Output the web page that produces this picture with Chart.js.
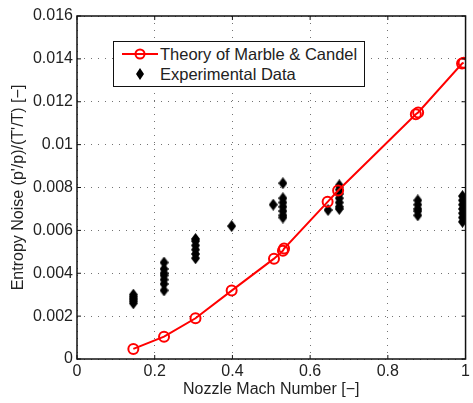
<!DOCTYPE html>
<html>
<head>
<meta charset="utf-8">
<script src="https://cdn.jsdelivr.net/npm/chart.js@4"></script>
<style>
  html, body { margin: 0; padding: 0; background: #fff; }
  #wrap { position: relative; width: 473px; height: 403px; }
  #legend {
    position: absolute; left: 113px; top: 41px; width: 250px; height: 44px;
    border: 1.5px solid #111; background: #fff;
    font-family: "Liberation Sans", Arial, sans-serif; font-size: 16.5px; color: #222;
  }
  #legend .row { position: absolute; left: 0; height: 20px; line-height: 20px; }
  #legend svg { position: absolute; left: 8px; top: 0; }
  #legend span { position: absolute; left: 46px; white-space: nowrap; }
</style>
</head>
<body>
<div id="wrap">
  <canvas id="entropyChart" width="473" height="403"></canvas>
  <div id="legend">
    <div class="row" style="top:2px">
      <svg width="36" height="20"><line x1="0" y1="10" x2="36" y2="10" stroke="#ff0000" stroke-width="2"/><circle cx="18" cy="10" r="4.5" fill="none" stroke="#ff0000" stroke-width="2"/></svg>
      <span>Theory of Marble &amp; Candel</span>
    </div>
    <div class="row" style="top:22px">
      <svg width="36" height="20"><polygon points="18,4 22,10 18,16 14,10" fill="#000"/></svg>
      <span>Experimental Data</span>
    </div>
  </div>
</div>
<script>
// данные
const theoryMach  = [0.145, 0.224, 0.305, 0.398, 0.507, 0.530, 0.533, 0.645, 0.672, 0.872, 0.878, 0.991, 0.995];
const theoryNoise = [0.00047, 0.00104, 0.0019, 0.00319, 0.00468, 0.00505, 0.00515, 0.00733, 0.00786, 0.01142, 0.0115, 0.01378, 0.01382];

const expMach = [
  0.145, 0.145, 0.145, 0.145, 0.145,
  0.224, 0.224, 0.224, 0.224, 0.224, 0.224, 0.224,
  0.305, 0.305, 0.305, 0.305, 0.305, 0.305,
  0.398,
  0.505, 0.53, 0.53, 0.53, 0.53, 0.53, 0.53, 0.53,
  0.646, 0.675, 0.675, 0.675, 0.675, 0.675, 0.675, 0.675,
  0.877, 0.877, 0.877, 0.877, 0.877,
  0.992, 0.992, 0.992, 0.992, 0.992, 0.992, 0.992
];
const expNoise = [
  0.0026, 0.0027, 0.0028, 0.0029, 0.003,
  0.0032, 0.0035, 0.0037, 0.0039, 0.0040, 0.0042, 0.0045,
  0.0047, 0.0049, 0.0051, 0.0053, 0.0055, 0.0056,
  0.0062,
  0.0072, 0.0082, 0.0075, 0.0073, 0.0071, 0.0069, 0.0067, 0.0066,
  0.00695, 0.0081, 0.0079, 0.0077, 0.0075, 0.0073, 0.0071, 0.0070,
  0.0074, 0.0072, 0.0070, 0.0069, 0.0067,
  0.0076, 0.0074, 0.0072, 0.0070, 0.0068, 0.0066, 0.0064
];

const xTicks = [0, 0.2, 0.4, 0.6, 0.8, 1];
const yTicks = [0, 0.002, 0.004, 0.006, 0.008, 0.01, 0.012, 0.014, 0.016];

const FONT = '"Liberation Sans", Arial, sans-serif';

// вытянутый ромб как в MATLAB
const diamond = document.createElement('canvas');
diamond.width = 9;
diamond.height = 12;
(function() {
  const c = diamond.getContext('2d');
  c.fillStyle = '#000';
  c.beginPath();
  c.moveTo(4.5, 0); c.lineTo(9, 6); c.lineTo(4.5, 12); c.lineTo(0, 6);
  c.closePath();
  c.fill();
})();

// рамка и внутренние засечки
const boxPlugin = {
  id: 'box',
  afterDraw(chart) {
    const { ctx, chartArea: a, scales } = chart;
    ctx.save();
    ctx.strokeStyle = '#111';
    ctx.lineWidth = 1;
    xTicks.forEach(v => {
      const px = scales.x.getPixelForValue(v);
      ctx.beginPath();
      ctx.moveTo(px, a.bottom); ctx.lineTo(px, a.bottom - 4);
      ctx.moveTo(px, a.top); ctx.lineTo(px, a.top + 4);
      ctx.stroke();
    });
    yTicks.forEach(v => {
      const py = scales.y.getPixelForValue(v);
      ctx.beginPath();
      ctx.moveTo(a.left, py); ctx.lineTo(a.left + 4, py);
      ctx.moveTo(a.right, py); ctx.lineTo(a.right - 4, py);
      ctx.stroke();
    });
    ctx.lineWidth = 1.5;
    ctx.strokeRect(a.left, a.top, a.right - a.left, a.bottom - a.top);
    ctx.restore();
  }
};

new Chart(document.getElementById('entropyChart'), {
  type: 'scatter',
  data: {
    datasets: [
      {
        label: 'Theory of Marble & Candel',
        data: theoryMach.map((m, i) => ({ x: m, y: theoryNoise[i] })),
        showLine: true,
        borderColor: '#ff0000',
        borderWidth: 2,
        pointStyle: 'circle',
        pointRadius: 5,
        pointBorderWidth: 2,
        pointBorderColor: '#ff0000',
        pointBackgroundColor: 'rgba(0,0,0,0)',
        order: 1
      },
      {
        label: 'Experimental Data',
        data: expMach.map((m, i) => ({ x: m, y: expNoise[i] })),
        pointStyle: diamond,
        pointRadius: 5,
        backgroundColor: '#000',
        borderColor: '#000',
        order: 2
      }
    ]
  },
  options: {
    responsive: false,
    animation: false,
    layout: { padding: { top: 16, right: 2, left: 0, bottom: 0 } },
    plugins: {
      legend: { display: false },
      tooltip: { enabled: false }
    },
    scales: {
      x: {
        type: 'linear',
        min: 0, max: 1,
        afterFit: s => { s.height = 44; },
        afterBuildTicks: s => { s.ticks = xTicks.map(v => ({ value: v })); },
        ticks: {
          color: '#222',
          font: { family: FONT, size: 16 },
          padding: 3,
          maxRotation: 0,
          callback: v => String(+v.toFixed(3))
        },
        grid: { color: 'rgba(0,0,0,0.55)', lineWidth: 1, drawTicks: false },
        border: { display: false, dash: [1, 6] },
        title: {
          display: true,
          text: 'Nozzle Mach Number [\u2212]',
          color: '#222',
          font: { family: FONT, size: 16 },
          padding: { top: 0, bottom: 4 }
        }
      },
      y: {
        type: 'linear',
        min: 0, max: 0.016,
        afterFit: s => { s.width = 77; },
        afterBuildTicks: s => { s.ticks = yTicks.map(v => ({ value: v })); },
        ticks: {
          color: '#222',
          font: { family: FONT, size: 16 },
          padding: 4,
          callback: v => String(+v.toFixed(3))
        },
        grid: { color: 'rgba(0,0,0,0.55)', lineWidth: 1, drawTicks: false },
        border: { display: false, dash: [1, 6] },
        title: {
          display: true,
          text: "Entropy Noise (p'/p)/(T'/T) [\u2212]",
          color: '#222',
          font: { family: FONT, size: 16 },
          padding: { top: 9, bottom: 0 }
        }
      }
    }
  },
  plugins: [boxPlugin]
});
</script>
</body>
</html>
